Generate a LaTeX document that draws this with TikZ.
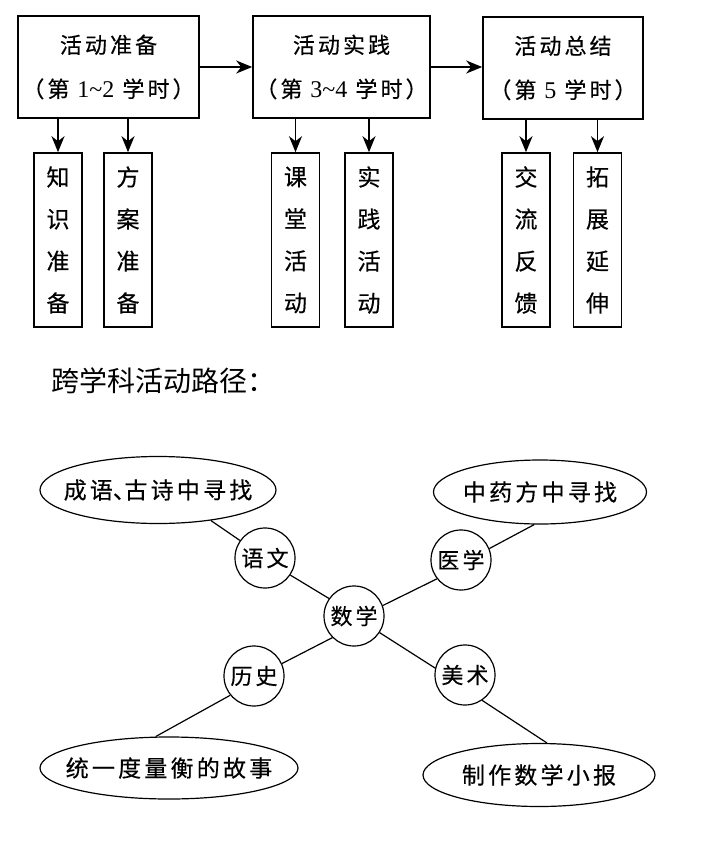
\documentclass[tikz,border=0pt]{standalone}
\usepackage{fontspec}
\setmainfont{Noto Sans CJK SC}
\newfontfamily\spaced[LetterSpace=14,FakeBold=0.4]{Noto Sans CJK SC}
\newfontfamily\plainbold[FakeBold=0.4]{Noto Sans CJK SC}
\newfontfamily\digits{Liberation Serif}
\newcommand{\hours}[1]{{\digits\fontsize{24}{44}\selectfont #1}}
\usetikzlibrary{shapes.geometric,arrows.meta,positioning}

\tikzset{
  stage/.style={draw, line width=1.6pt, align=center, minimum height=102pt, inner sep=0pt, font=\spaced\fontsize{22}{44}\selectfont},
  task/.style={draw, line width=1.6pt, align=center, minimum width=48pt, minimum height=174pt, inner sep=0pt, font=\plainbold\fontsize{23}{42}\selectfont},
  flow/.style={line width=1.6pt, -{Stealth[length=16pt,width=13pt,inset=5pt]}},
  subj/.style={circle, draw, line width=1.2pt, minimum size=60pt, inner sep=0pt, font=\spaced\fontsize{22}{26}\selectfont},
  oval/.style={ellipse, draw, line width=1.2pt, inner sep=0pt},
  ovaltext/.style={font=\spaced\fontsize{23}{26}\selectfont},
  link/.style={line width=1.2pt},
}

\begin{document}
\begin{tikzpicture}[x=1pt,y=-1pt]
\useasboundingbox (0,0) rectangle (705,841);

% stages of the activity
\node[stage, minimum width=181pt] (prep) at (108.5,67) {活动准备\\（第 \hours{1\textasciitilde 2} 学时）};
\node[stage, minimum width=177pt] (prac) at (341.5,67) {活动实践\\（第 \hours{3\textasciitilde 4} 学时）};
\node[stage, minimum width=160pt] (summ) at (563,68) {活动总结\\（第 \hours{5} 学时）};
\draw[flow] (prep.east) -- (prac.west);
\draw[flow] (prac.east) -- (summ.west |- prac.east);

% tasks under each stage
\node[task] (know) at (58,240) {知\\识\\准\\备};
\node[task] (plan) at (128,240) {方\\案\\准\\备};
\node[task] (clas) at (295.5,240) {课\\堂\\活\\动};
\node[task] (doit) at (369,240) {实\\践\\活\\动};
\node[task] (talk) at (526,240) {交\\流\\反\\馈};
\node[task] (ext) at (597.5,240) {拓\\展\\延\\伸};
\foreach \s/\t in {prep/know, prep/plan, prac/clas, prac/doit, summ/talk, summ/ext}
  \draw[flow] (\t.north |- \s.south) -- (\t.north);

\node[anchor=west, font=\fontsize{28}{30}\selectfont] (title) at (48,381) {跨学科活动路径：};

% subjects round maths
\node[subj] (sx) at (354,616) {数学};
\node[subj] (yw) at (265,558) {语文};
\node[subj] (yx) at (461,560) {医学};
\node[subj] (ls) at (254,676) {历史};
\node[subj] (ms) at (465,675) {美术};

\node[oval, minimum width=236pt, minimum height=67pt, label={[ovaltext]center:成语\makebox[0.5em][l]{、}古诗中寻找}] (e1) at (158,490) {};
\node[oval, minimum width=213pt, minimum height=64pt, label={[ovaltext]center:中药方中寻找}] (e2) at (540,492) {};
\node[oval, minimum width=258pt, minimum height=62pt, label={[ovaltext]center:统一度量衡的故事}] (e3) at (169,768) {};
\node[oval, minimum width=232pt, minimum height=63pt, label={[ovaltext]center:制作数学小报}] (e4) at (539,775) {};

\draw[link] (e1.-30) -- (yw.145);
\draw[link] (yw.-34) -- (sx.145);
\draw[link] (e2.-100) -- (yx.22);
\draw[link] (yx.218) -- (sx.20);
\draw[link] (sx.225) -- (ls.24);
\draw[link] (ls.219) -- (e3.113);
\draw[link] (sx.-33) -- (ms.167);
\draw[link] (ms.-56) -- (e4.76);
\end{tikzpicture}
\end{document}
